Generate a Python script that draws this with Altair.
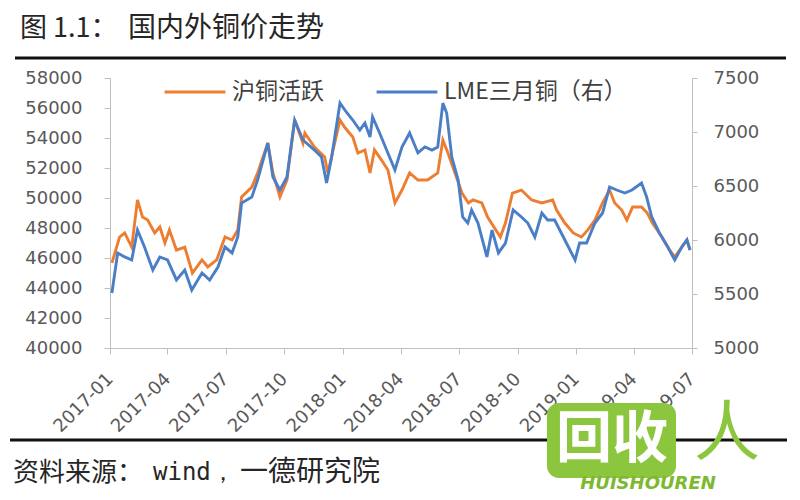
import altair as alt
import pandas as pd

# ---------------- data ----------------
series_names = ["沪铜活跃", "LME三月铜（右）"]
series_colors = ["#ED7D31", "#4A7EC6"]

shfe_dates = [
    "2017-01-04", "2017-01-16", "2017-01-24", "2017-02-04", "2017-02-13", "2017-02-21",
    "2017-03-01", "2017-03-12", "2017-03-20", "2017-03-28", "2017-04-04", "2017-04-15",
    "2017-04-28", "2017-05-10", "2017-05-25", "2017-06-03", "2017-06-17", "2017-06-30",
    "2017-07-11", "2017-07-20", "2017-07-26", "2017-08-11", "2017-08-20", "2017-09-05",
    "2017-09-13", "2017-09-24", "2017-10-05", "2017-10-17", "2017-10-30", "2017-11-02",
    "2017-11-17", "2017-12-03", "2017-12-08", "2017-12-27", "2018-01-03", "2018-01-16",
    "2018-01-24", "2018-02-04", "2018-02-12", "2018-02-19", "2018-03-02", "2018-03-12",
    "2018-03-23", "2018-04-03", "2018-04-15", "2018-04-28", "2018-05-13", "2018-05-29",
    "2018-06-06", "2018-06-14", "2018-06-25", "2018-07-06", "2018-07-16", "2018-07-23",
    "2018-08-06", "2018-08-15", "2018-09-04", "2018-09-12", "2018-09-23", "2018-10-07",
    "2018-10-23", "2018-11-08", "2018-11-25", "2018-12-01", "2018-12-14", "2018-12-27",
    "2019-01-09", "2019-01-19", "2019-01-30", "2019-02-11", "2019-02-22", "2019-03-02",
    "2019-03-13", "2019-03-21", "2019-03-30", "2019-04-13", "2019-04-22", "2019-04-30",
    "2019-05-15", "2019-05-27", "2019-06-04", "2019-06-15", "2019-06-23", "2019-06-28",
]
shfe_values = [
    45670, 47400, 47670, 46730, 49870, 48730,
    48530, 47670, 48070, 47000, 47870, 46530,
    46730, 45000, 45870, 45400, 45870, 47400,
    47200, 47870, 50070, 50730, 51670, 53670,
    51670, 50070, 51200, 55200, 53670, 54330,
    53400, 52730, 51670, 55200, 54730, 54070,
    53000, 53200, 51670, 53200, 52530, 51870,
    49670, 50530, 51670, 51200, 51200, 51670,
    53870, 53000, 51670, 50330, 49670, 49870,
    49670, 48730, 47400, 48330, 50330, 50530,
    49870, 49670, 49870, 49200, 48330, 47670,
    47400, 47870, 48530, 49670, 50530, 49670,
    49200, 48530, 49400, 49400, 49000, 48330,
    47400, 46530, 46070, 46730, 47200, 46530,
]

lme_dates = [
    "2017-01-04", "2017-01-13", "2017-01-24", "2017-02-04", "2017-02-13", "2017-02-24",
    "2017-03-09", "2017-03-20", "2017-04-01", "2017-04-15", "2017-04-28", "2017-05-09",
    "2017-05-25", "2017-06-06", "2017-06-19", "2017-06-30", "2017-07-11", "2017-07-20",
    "2017-07-26", "2017-08-11", "2017-08-20", "2017-09-05", "2017-09-13", "2017-09-24",
    "2017-10-05", "2017-10-17", "2017-10-30", "2017-11-17", "2017-11-28", "2017-12-06",
    "2017-12-14", "2017-12-27", "2018-01-07", "2018-01-16", "2018-01-27", "2018-02-04",
    "2018-02-12", "2018-02-16", "2018-02-27", "2018-03-10", "2018-03-23", "2018-04-03",
    "2018-04-15", "2018-04-28", "2018-05-09", "2018-05-20", "2018-05-29", "2018-06-06",
    "2018-06-12", "2018-06-20", "2018-06-30", "2018-07-07", "2018-07-15", "2018-07-21",
    "2018-07-31", "2018-08-14", "2018-08-22", "2018-09-01", "2018-09-12", "2018-09-24",
    "2018-10-07", "2018-10-17", "2018-10-28", "2018-11-08", "2018-11-17", "2018-11-28",
    "2018-12-14", "2018-12-30", "2019-01-06", "2019-01-17", "2019-01-30", "2019-02-11",
    "2019-02-22", "2019-03-05", "2019-03-18", "2019-03-29", "2019-04-13", "2019-04-21",
    "2019-04-29", "2019-05-11", "2019-05-24", "2019-06-04", "2019-06-15", "2019-06-23",
    "2019-06-28",
]
lme_values = [
    5509, 5880, 5843, 5815, 6092, 5935,
    5722, 5843, 5815, 5630, 5722, 5537,
    5694, 5630, 5750, 5935, 5880, 6028,
    6342, 6398, 6555, 6898, 6583, 6463,
    6583, 7111, 6926, 6833, 6768, 6528,
    6768, 7268, 7176, 7111, 7018, 7083,
    6954, 7139, 6991, 6833, 6648, 6861,
    6991, 6806, 6861, 6833, 6861, 7268,
    7176, 6768, 6555, 6213, 6157, 6278,
    6157, 5843, 6092, 5880, 5972, 6278,
    6213, 6157, 6028, 6250, 6185, 6185,
    6000, 5815, 5972, 5972, 6157, 6250,
    6491, 6463, 6435, 6463, 6528, 6398,
    6213, 6065, 5935, 5815, 5935, 6000,
    5907,
]

left_ticks = [40000, 42000, 44000, 46000, 48000, 50000, 52000, 54000, 56000, 58000]
right_ticks = [5000, 5500, 6000, 6500, 7000, 7500]
x_tick_dates = ["2017-01-01", "2017-04-01", "2017-07-01", "2017-10-01", "2018-01-01",
                "2018-04-01", "2018-07-01", "2018-10-01", "2019-01-01", "2019-04-01",
                "2019-07-01"]

title_prefix = "图 1.1："
title_main = "国内外铜价走势"
source_parts = ["资料来源：", "wind，", "一德研究院"]

# ---------------- build ----------------
df = pd.concat([
    pd.DataFrame({"date": shfe_dates, "value": shfe_values, "series": series_names[0]}),
    pd.DataFrame({"date": lme_dates, "value": lme_values, "series": series_names[1]}),
])


def ms(s):
    return int(pd.Timestamp(s, tz="UTC").value // 10**6)


x_ticks_ms = [ms(s) for s in x_tick_dates]

AX_COLOR = "#BFBFBF"
LBL_COLOR = "#595959"
CJK = "Noto Sans CJK SC"
NUM = "DejaVu Sans"

x_enc = alt.X(
    "date:T",
    title=None,
    scale=alt.Scale(type="utc", domain=[x_ticks_ms[0], x_ticks_ms[-1]], nice=False),
    axis=alt.Axis(
        values=x_ticks_ms,
        labelExpr="utcFormat(datum.value, '%Y-%m')",
        labelAngle=315, labelAlign="right", labelBaseline="middle",
        labelFont=NUM, labelFontSize=18, labelColor=LBL_COLOR,
        labelPadding=22, tickSize=6, tickColor=AX_COLOR, domainColor=AX_COLOR,
        grid=False, labelOverlap=False, labelFlush=False, labelBound=False,
    ),
)

color_enc = alt.Color(
    "series:N",
    scale=alt.Scale(domain=series_names, range=series_colors),
    legend=alt.Legend(
        title=None, orient="none", direction="horizontal",
        legendX=53, legendY=-18,
        symbolType="stroke", symbolSize=3700, symbolStrokeWidth=3,
        labelFont=CJK, labelFontSize=23, labelColor="#404040", labelLimit=400,
        labelOffset=5, columnPadding=46, padding=0,
    ),
)

base = alt.Chart(df).encode(x=x_enc, color=color_enc)

shfe = base.transform_filter(alt.datum.series == series_names[0]).mark_line(
    strokeWidth=2.9
).encode(
    y=alt.Y("value:Q", title=None,
            scale=alt.Scale(domain=[40000, 58000], nice=False, zero=False),
            axis=alt.Axis(values=left_ticks, format="d", orient="left",
                          labelFont=NUM, labelFontSize=18, labelColor=LBL_COLOR,
                          tickSize=6, labelPadding=22, tickColor=AX_COLOR,
                          domainColor=AX_COLOR, grid=False))
)

lme = base.transform_filter(alt.datum.series == series_names[1]).mark_line(
    strokeWidth=2.9
).encode(
    y=alt.Y("value:Q", title=None,
            scale=alt.Scale(domain=[5000, 7500], nice=False, zero=False),
            axis=alt.Axis(values=right_ticks, format="d", orient="right",
                          labelFont=NUM, labelFontSize=18, labelColor=LBL_COLOR,
                          tickSize=5, labelPadding=16, tickColor=AX_COLOR,
                          domainColor=AX_COLOR, grid=False))
)

one = alt.Data(values=[{}])


def label(text, x, y, size, font=CJK, color="#262626", **kw):
    return alt.Chart(one).mark_text(
        text=text, font=font, fontSize=size, color=color,
        align=kw.pop("align", "left"), baseline="middle", **kw
    ).encode(x=alt.value(x), y=alt.value(y))


title_a = label(title_prefix, -90, -49, 27)
title_b = label(title_main, 18, -49, 28)

top_rule = alt.Chart(one).mark_rule(color="#111111", strokeWidth=3).encode(
    x=alt.value(-95), x2=alt.value(676), y=alt.value(-20))
bottom_rule = alt.Chart(one).mark_rule(color="#111111", strokeWidth=3).encode(
    x=alt.value(-100), x2=alt.value(677), y=alt.value(362))

src_a = label(source_parts[0], -97, 395, 26)
src_b = label(source_parts[1], 43, 395, 24, font="DejaVu Sans Mono")
src_c = label(source_parts[2], 130, 395, 28)

logo_box = alt.Chart(one).mark_rect(color="#8CC63F", cornerRadius=12).encode(
    x=alt.value(437), x2=alt.value(566), y=alt.value(325), y2=alt.value(400))
logo_text = label("回收", 502, 362, 56, color="white", align="center", fontWeight="bold")
logo_ren = label("人", 617, 357, 66, color="#8CC63F", align="center")
logo_en = label("HUISHOUREN", 538, 406, 18, font="DejaVu Sans", color="#7DB92E",
                align="center", fontWeight="bold", fontStyle="italic")

chart = alt.layer(
    shfe, lme, title_a, title_b, top_rule, bottom_rule, src_a, src_b, src_c,
    logo_box, logo_text, logo_ren, logo_en,
).resolve_scale(y="independent").properties(
    width=582, height=270,
    autosize=alt.AutoSizeParams(type="none"),
    padding={"left": 102, "top": 70, "right": 100, "bottom": 144},
    background="white",
).configure_view(stroke=None)

chart.save("out.html", embed_options={"renderer": "svg", "actions": False})
